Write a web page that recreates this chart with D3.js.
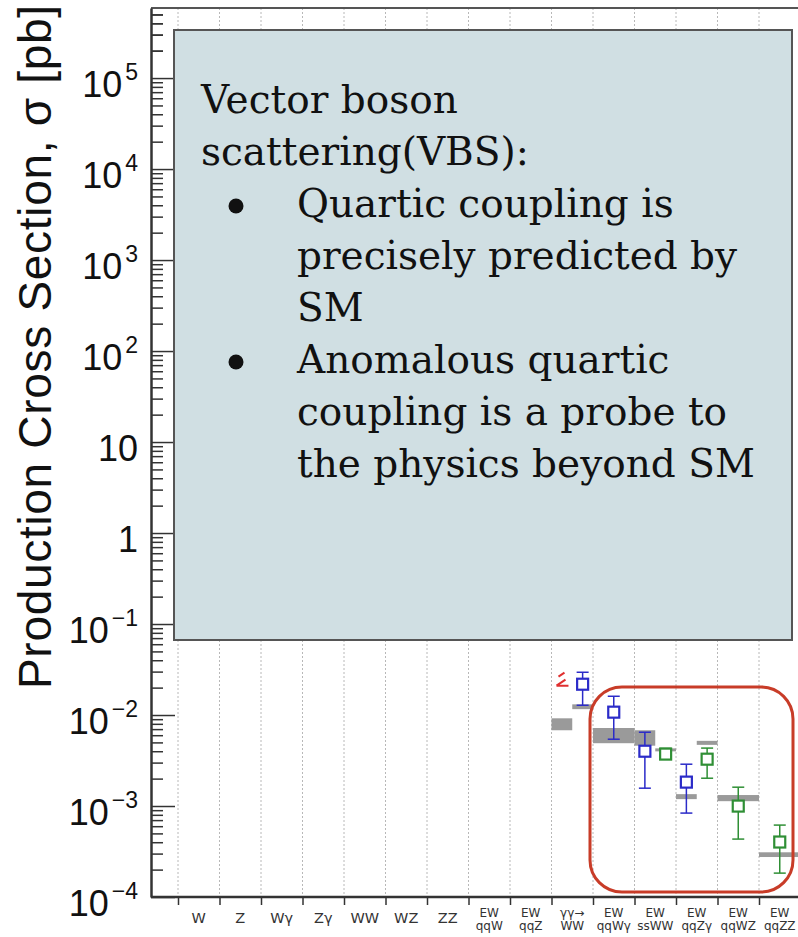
<!DOCTYPE html>
<html>
<head>
<meta charset="utf-8">
<script src="https://cdn.jsdelivr.net/npm/d3@7"></script>
<style>
body { margin: 0; background: white; }
svg { display: block; }
.axis path, .axis line { stroke: #333; }
</style>
</head>
<body>
<script>
// categories along x (lines split by "|")
const categories = ["W", "Z", "Wγ", "Zγ", "WW", "WZ", "ZZ", "EW|qqW", "EW|qqZ",
                    "γγ→|WW", "EW|qqWγ", "EW|ssWW", "EW|qqZγ", "EW|qqWZ", "EW|qqZZ"];
const yTickExp = [-4, -3, -2, -1, 0, 1, 2, 3, 4, 5];

// theory predictions (grey bands), slot = part of the category
const theoryCat  = ["γγ→|WW", "γγ→|WW", "EW|qqWγ", "EW|ssWW", "EW|ssWW", "EW|qqZγ", "EW|qqZγ", "EW|qqWZ", "EW|qqZZ"];
const theorySlot = ["L", "R", "C", "L", "R", "L", "R", "C", "C"];
const theoryLow  = [0.0068, 0.0116, 0.0049, 0.0046, 0.0040, 0.00119, 0.0047, 0.00113, 0.000275];
const theoryHigh = [0.0092, 0.0131, 0.0072, 0.0068, 0.0043, 0.00135, 0.0052, 0.00132, 0.00031];

// measurements
const measCat   = ["γγ→|WW", "EW|qqWγ", "EW|ssWW", "EW|ssWW", "EW|qqZγ", "EW|qqZγ", "EW|qqWZ", "EW|qqZZ"];
const measSlot  = ["R", "C", "L", "R", "L", "R", "C", "C"];
const measSet   = ["blue", "blue", "blue", "green", "blue", "green", "green", "green"];
const measValue = [0.0218, 0.01075, 0.0040, 0.00372, 0.00183, 0.00327, 0.000998, 0.000402];
const measLow   = [0.0128, 0.00542, 0.00157, 0.0033, 0.000836, 0.00202, 0.000433, 0.000183];
const measHigh  = [0.0295, 0.01607, 0.00647, 0.0043, 0.00288, 0.00433, 0.00161, 0.000617];

// upper limit (red)
const limitCat   = ["γγ→|WW"];
const limitValue = [0.021];

const boxTitle = ["Vector boson", "scattering(VBS):"];
const boxBullets = [["Quartic coupling is", "precisely predicted by", "SM"],
                    ["Anomalous quartic", "coupling is a probe to", "the physics beyond SM"]];

const W = 798, H = 937;
const svg = d3.select("body").append("svg").attr("width", W).attr("height", H);

const frame = {left: 151, top: 8, bottom: 897};

const y = d3.scaleLog().domain([1e-4, Math.pow(10, 5.77)]).range([frame.bottom, frame.top]);
const x = d3.scaleBand().domain(categories).range([178, 800.5]).padding(0);
const xIdx = d3.scaleLinear().domain([0, categories.length]).range([178, 800.5]);
const bw = x.bandwidth();
const slotCenter = {L: 0.25, C: 0.5, R: 0.75};
const slotSpan = {L: [0, 0.5], C: [0, 1], R: [0.5, 1]};
const colors = {blue: "#2b2bc8", green: "#2f8f35"};

// dotted grid at category boundaries
svg.append("g").selectAll("line").data(d3.range(categories.length + 1)).enter()
  .append("line")
  .attr("x1", d => xIdx(d)).attr("x2", d => xIdx(d))
  .attr("y1", frame.top).attr("y2", frame.bottom)
  .attr("stroke", "#b8b8b8").attr("stroke-dasharray", "2,2").attr("stroke-width", 1);

// frame top
svg.append("line").attr("x1", frame.left).attr("x2", W).attr("y1", frame.top).attr("y2", frame.top)
  .attr("stroke", "#555").attr("stroke-width", 2);

// y axis: majors + minors
const majors = yTickExp.map(e => Math.pow(10, e));
const minors = [];
yTickExp.concat([5]).forEach(e => {
  for (let m = 2; m <= 9; m++) {
    const v = m * Math.pow(10, e);
    if (v <= y.domain()[1]) minors.push(v);
  }
});
svg.append("g").attr("class", "axis").attr("transform", `translate(${frame.left},0)`)
  .call(d3.axisRight(y).tickValues(minors).tickSize(12).tickFormat(""))
  .call(g => g.select(".domain").remove())
  .selectAll("line").attr("stroke-width", 1.5);
svg.append("g").attr("class", "axis").attr("transform", `translate(${frame.left},0)`)
  .call(d3.axisRight(y).tickValues(majors).tickSize(24).tickSizeOuter(0).tickFormat(""))
  .call(g => g.select(".domain").attr("stroke-width", 2.5))
  .selectAll("line").attr("stroke-width", 1.5);

// y tick labels
const yl = svg.append("g").attr("font-family", "Liberation Sans, Arial, sans-serif").attr("fill", "#111");
yTickExp.forEach(e => {
  const t = yl.append("text").attr("x", 138).attr("y", y(Math.pow(10, e)) + 19)
    .attr("text-anchor", "end").attr("font-size", 36);
  if (e === 0) t.text("1");
  else if (e === 1) t.text("10");
  else {
    t.append("tspan").text("10");
    t.append("tspan").attr("font-size", 23).attr("dy", -17).attr("dx", 3)
      .text(e < 0 ? "\u2212" + (-e) : String(e));
  }
});

// y axis title
svg.append("text")
  .attr("transform", `translate(51, 347) rotate(-90)`)
  .attr("text-anchor", "middle")
  .attr("font-family", "Liberation Sans, Arial, sans-serif")
  .attr("font-size", 46).attr("fill", "#111")
  .attr("textLength", 684).attr("lengthAdjust", "spacing")
  .text("Production Cross Section,  σ [pb]");

// x axis
svg.append("g").attr("class", "axis").attr("transform", `translate(0,${frame.bottom})`)
  .call(d3.axisBottom(xIdx).tickValues(d3.range(categories.length + 1)).tickSize(8).tickSizeOuter(0).tickFormat(""))
  .call(g => g.select(".domain").attr("d", `M${frame.left},0H${W}`).attr("stroke-width", 2.5))
  .selectAll("line").attr("stroke-width", 1.5);

const xl = svg.append("g").attr("font-family", "DejaVu Sans, sans-serif").attr("fill", "#333")
  .attr("text-anchor", "middle");
categories.forEach(c => {
  const lines = c.split("|");
  const cx = x(c) + bw / 2;
  if (lines.length === 1) {
    xl.append("text").attr("x", cx).attr("y", 923).attr("font-size", 14.5).text(lines[0]);
  } else {
    lines.forEach((l, i) => {
      xl.append("text").attr("x", cx).attr("y", 917 + i * 13).attr("font-size", 12).text(l);
    });
  }
});

// theory bands
svg.append("g").selectAll("rect").data(theoryCat).enter().append("rect")
  .attr("x", (d, i) => x(d) + slotSpan[theorySlot[i]][0] * bw)
  .attr("width", (d, i) => (slotSpan[theorySlot[i]][1] - slotSpan[theorySlot[i]][0]) * bw)
  .attr("y", (d, i) => y(theoryHigh[i]))
  .attr("height", (d, i) => Math.max(3, y(theoryLow[i]) - y(theoryHigh[i])))
  .attr("fill", "#9a9a9a");

// upper limit mark
limitCat.forEach((c, i) => {
  const lx = x(c) + 0.12 * bw, ly = y(limitValue[i]);
  const g = svg.append("g").attr("stroke", "#e03030").attr("stroke-width", 2).attr("fill", "none");
  g.append("path").attr("d", `M${lx},${ly}H${lx + 12}M${lx},${ly}L${lx + 9},${ly - 6}M${lx + 2},${ly - 9}L${lx + 8},${ly - 13}`);
});

// measurements with error bars
const mg = svg.append("g");
measCat.forEach((c, i) => {
  const cx = x(c) + slotCenter[measSlot[i]] * bw;
  const col = colors[measSet[i]];
  const g = mg.append("g").attr("stroke", col).attr("fill", "none").attr("stroke-width", 1.5);
  g.append("line").attr("x1", cx).attr("x2", cx).attr("y1", y(measHigh[i])).attr("y2", y(measLow[i]));
  [measHigh[i], measLow[i]].forEach(v => {
    g.append("line").attr("x1", cx - 6).attr("x2", cx + 6).attr("y1", y(v)).attr("y2", y(v));
  });
  g.append("rect").attr("x", cx - 5.5).attr("y", y(measValue[i]) - 5.5)
    .attr("width", 11).attr("height", 11).attr("fill", "white").attr("stroke-width", 2.2);
});

// annotation box
svg.append("rect").attr("x", 174).attr("y", 30).attr("width", 618).attr("height", 610)
  .attr("fill", "#d0dfe3").attr("stroke", "#555").attr("stroke-width", 2);

const bt = svg.append("g").attr("font-family", "DejaVu Serif, serif").attr("font-size", 39).attr("fill", "#111");
let base = 113;
boxTitle.forEach(l => { bt.append("text").attr("x", 201).attr("y", base).text(l); base += 52; });
boxBullets.forEach(b => {
  bt.append("circle").attr("cx", 236).attr("cy", base - 11).attr("r", 7.5).attr("fill", "#111");
  b.forEach(l => { bt.append("text").attr("x", 297).attr("y", base).text(l); base += 52; });
});

// highlight of VBS results
svg.append("rect").attr("x", 590).attr("y", 687).attr("width", 203).attr("height", 205)
  .attr("rx", 32).attr("fill", "none").attr("stroke", "#c83c28").attr("stroke-width", 3);
</script>
</body>
</html>
